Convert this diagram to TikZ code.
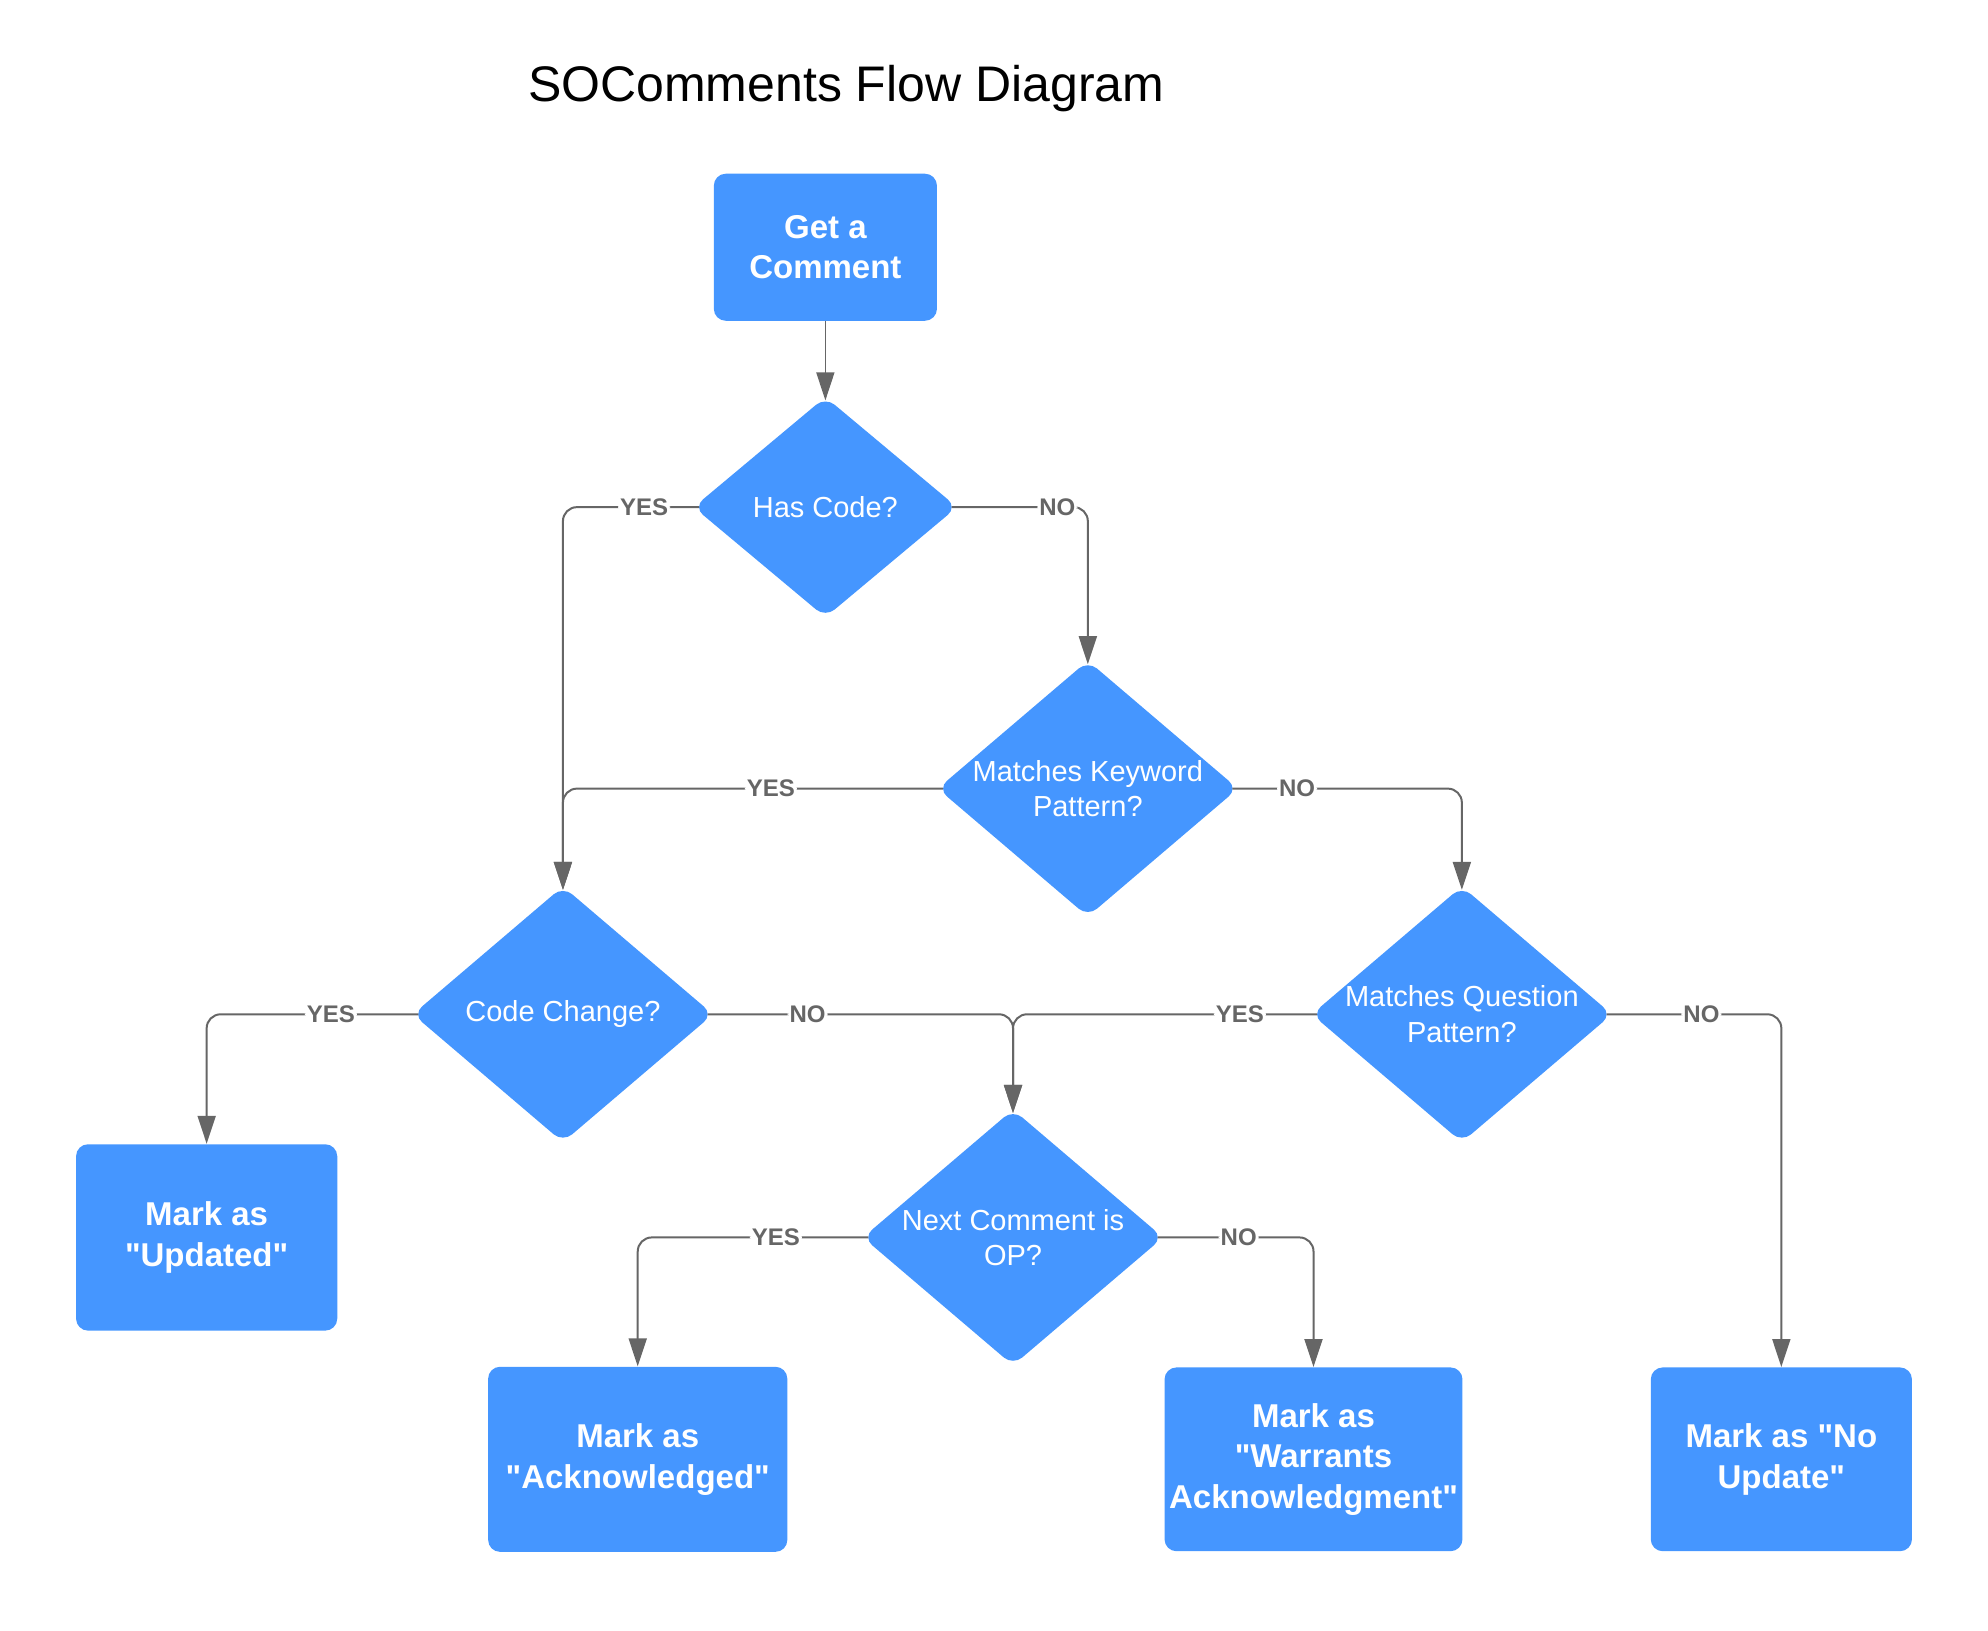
\documentclass[tikz,border=0pt]{standalone}
\usepackage{fontspec}
\setmainfont{Liberation Sans}[Ligatures=TeXOff]
\usetikzlibrary{shapes.geometric,arrows.meta}
\definecolor{boxblue}{HTML}{4596FF}
\definecolor{linegray}{HTML}{666666}
\begin{document}
\begin{tikzpicture}[x=0.634pt,y=-0.634pt,
  procbox/.style={rectangle, rounded corners=6pt, fill=boxblue, text=white,
    font=\fontsize{16.5}{20.3}\selectfont\bfseries, align=center, inner sep=0pt},
  decbox/.style={diamond, rounded corners=6pt, fill=boxblue, inner sep=0pt},
  dtext/.style={text=white, font=\fontsize{14.5}{17.8}\selectfont, align=center, inner sep=0pt},
  conn/.style={draw=linegray, line width=1pt, rounded corners=7pt,
    -{Triangle[length=14pt,width=9pt]}},
  lab/.style={fill=white, text=linegray, font=\fontsize{12}{14}\selectfont\bfseries, inner sep=1pt},
  intodia/.style={shorten >=-2pt},
  fromdia/.style={shorten <=-3pt}]
\useasboundingbox (0,0) rectangle (1568,1286);

\node[font=\fontsize{25}{30}\selectfont, anchor=base west] (title) at (411,80) {SOComments Flow Diagram};

% process boxes
\node[procbox, minimum width=176*0.634pt, minimum height=116*0.634pt] (gc) at (651,195) {Get a\\Comment};
\node[procbox, minimum width=206*0.634pt, minimum height=147*0.634pt] (up) at (163,976) {Mark as\\"Updated"};
\node[procbox, minimum width=236*0.634pt, minimum height=146*0.634pt] (ak) at (503,1151) {Mark as\\"Acknowledged"};
\node[procbox, minimum width=235*0.634pt, minimum height=145*0.634pt] (wa) at (1036,1151) {Mark as\\"Warrants\\Acknowledgment"};
\node[procbox, minimum width=206*0.634pt, minimum height=145*0.634pt] (nu) at (1405,1151) {Mark as "No\\Update"};

% decisions
\node[decbox, minimum width=208*0.634pt, minimum height=174*0.634pt,
  label={[dtext]center:Has Code?}] (hc) at (651,400) {};
\node[decbox, minimum width=237*0.634pt, minimum height=202*0.634pt,
  label={[dtext]center:{Matches Keyword\\Pattern?}}] (kw) at (858,622) {};
\node[decbox, minimum width=237*0.634pt, minimum height=202*0.634pt,
  label={[dtext]center:Code Change?}] (cc) at (444,800) {};
\node[decbox, minimum width=237*0.634pt, minimum height=202*0.634pt,
  label={[dtext]center:{Matches Question\\Pattern?}}] (qp) at (1153,800) {};
\node[decbox, minimum width=237*0.634pt, minimum height=202*0.634pt,
  label={[dtext]center:{Next Comment is\\OP?}}] (nc) at (799,976) {};

% connectors
\draw[conn, intodia, line width=0.7pt] (gc.south) -- (hc.north);
\draw[conn, fromdia, intodia] (hc.west) -| (cc.north) node[lab] at (508,400) {YES};
\draw[conn, fromdia, intodia] (hc.east) -| (kw.north) node[lab] at (834,400) {NO};
\draw[conn, fromdia, intodia] (kw.west) -| (cc.north) node[lab] at (608,622) {YES};
\draw[conn, fromdia, intodia] (kw.east) -| (qp.north) node[lab] at (1023,622) {NO};
\draw[conn, fromdia] (cc.west) -| (up.north) node[lab] at (261,800) {YES};
\draw[conn, fromdia, intodia] (cc.east) -| (nc.north) node[lab] at (637,800) {NO};
\draw[conn, fromdia, intodia] (qp.west) -| (nc.north) node[lab] at (978,800) {YES};
\draw[conn, fromdia] (qp.east) -| (nu.north) node[lab] at (1342,800) {NO};
\draw[conn, fromdia] (nc.west) -| (ak.north) node[lab] at (612,976) {YES};
\draw[conn, fromdia] (nc.east) -| (wa.north) node[lab] at (977,976) {NO};
\end{tikzpicture}
\end{document}
